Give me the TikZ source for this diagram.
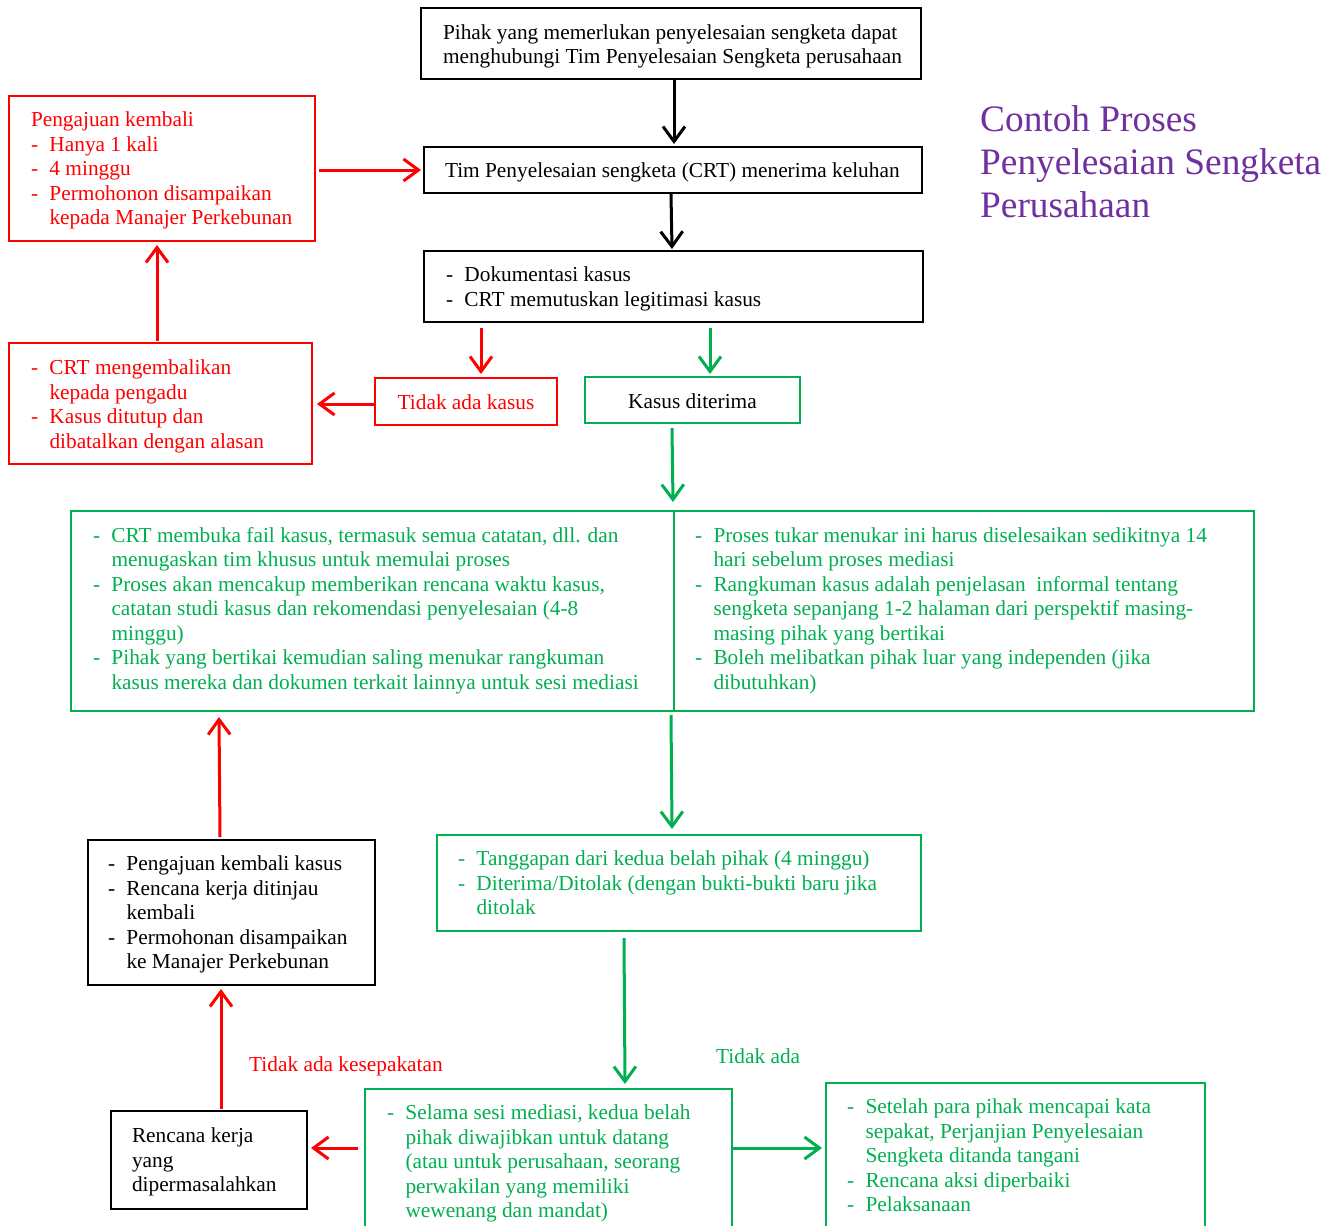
\documentclass[tikz,border=0pt]{standalone}
\usepackage{fontspec}
\setmainfont{Liberation Serif}
\usetikzlibrary{arrows.meta,calc}
\definecolor{grn}{HTML}{00B050}
\definecolor{purp}{HTML}{7030A0}
\newcommand{\fs}{\fontsize{21.33}{24.5}\selectfont}
\newcommand{\titlefs}{\fontsize{37.33}{43}\selectfont}
\newcommand{\bdash}{\makebox[18.5pt][l]{-}}
\newcommand{\bcont}{\hspace*{18.5pt}}
\newcommand{\boxlines}[3][2.5pt]{\raisebox{-#1}[\height][\depth]{\makebox[#2][l]{\begin{tabular}{@{}l@{}}#3\end{tabular}}}}
\newcommand{\lowtext}[1]{\raisebox{-1pt}[\height][\depth]{#1}}
\tikzset{
  bx/.style={draw, line width=2pt, inner ysep=1pt, font=\fs, anchor=center},
  blackbox/.style={bx, draw=black, text=black},
  redbox/.style={bx, draw=red, text=red},
  greenbox/.style={bx, draw=grn, text=grn},
  arr/.style={line width=3pt, -{Straight Barb[length=15pt,width=22pt]}},
  blackarr/.style={arr, draw=black},
  redarr/.style={arr, draw=red},
  greenarr/.style={arr, draw=grn},
}
\begin{document}
\begin{tikzpicture}[x=1pt,y=-1pt]
\clip (0,0) rectangle (1339,1226);
\fill[white] (0,0) rectangle (1339,1226);

% title
\node[anchor=west, inner sep=0pt, text=purp, font=\titlefs] (title) at (980,166)
  {\begin{tabular}{@{}l@{}}Contoh Proses\\Penyelesaian Sengketa\\Perusahaan\end{tabular}};

% top chain
\node[blackbox, minimum width=500pt, minimum height=71pt, inner xsep=22pt] (b1) at (671,43.5)
  {\boxlines[3pt]{456pt}{Pihak yang memerlukan penyelesaian sengketa dapat\\menghubungi Tim Penyelesaian Sengketa perusahaan}};
\node[blackbox, minimum width=498pt, minimum height=46pt, inner xsep=21pt] (b2) at (673,170)
  {\boxlines[3pt]{456pt}{Tim Penyelesaian sengketa (CRT) menerima keluhan}};
\node[blackbox, minimum width=499pt, minimum height=71pt, inner xsep=22pt] (b3) at (673.5,286.5)
  {\boxlines{455pt}{\bdash Dokumentasi kasus\\ \bdash CRT memutuskan legitimasi kasus}};
\node[redbox, minimum width=182pt, minimum height=47pt] (b4) at (466,401.5) {\lowtext{Tidak ada kasus}};
\node[bx, draw=grn, text=black, minimum width=215pt, minimum height=46pt] (b5) at (692.5,400) {\lowtext{Kasus diterima}};

% left red boxes
\node[redbox, minimum width=306pt, minimum height=145pt, inner xsep=22pt] (b6) at (162,168.5)
  {\boxlines{262pt}{Pengajuan kembali\\ \bdash Hanya 1 kali\\ \bdash 4 minggu\\ \bdash Permohonon disampaikan\\ \bcont kepada Manajer Perkebunan}};
\node[redbox, minimum width=303pt, minimum height=121pt, inner xsep=22pt] (b7) at (160.5,403.5)
  {\boxlines[3pt]{259pt}{\bdash CRT mengembalikan\\ \bcont kepada pengadu\\ \bdash Kasus ditutup dan\\ \bcont dibatalkan dengan alasan}};

% big green box
\node[greenbox, minimum width=603pt, minimum height=200pt, inner xsep=22pt] (b8L) at (372.5,611)
  {\boxlines[0pt]{559pt}{\bdash CRT membuka fail kasus, termasuk semua catatan, dll. dan\\ \bcont menugaskan tim khusus untuk memulai proses\\ \bdash Proses akan mencakup memberikan rencana waktu kasus,\\ \bcont catatan studi kasus dan rekomendasi penyelesaian (4-8\\ \bcont minggu)\\ \bdash Pihak yang bertikai kemudian saling menukar rangkuman\\ \bcont kasus mereka dan dokumen terkait lainnya untuk sesi mediasi}};
\node[greenbox, minimum width=580pt, minimum height=200pt, inner xsep=21pt] (b8R) at (964,611)
  {\boxlines[0pt]{538pt}{\bdash Proses tukar menukar ini harus diselesaikan sedikitnya 14\\ \bcont hari sebelum proses mediasi\\ \bdash Rangkuman kasus adalah penjelasan\ \ informal tentang\\ \bcont sengketa sepanjang 1-2 halaman dari perspektif masing-\\ \bcont masing pihak yang bertikai\\ \bdash Boleh melibatkan pihak luar yang independen (jika\\ \bcont dibutuhkan)}};

% middle / lower
\node[greenbox, minimum width=484pt, minimum height=96pt, inner xsep=21pt] (b9) at (679,883)
  {\boxlines{442pt}{\bdash Tanggapan dari kedua belah pihak (4 minggu)\\ \bdash Diterima/Ditolak (dengan bukti-bukti baru jika\\ \bcont ditolak}};
\node[blackbox, minimum width=287pt, minimum height=145pt, inner xsep=20pt] (b10) at (231.5,912.5)
  {\boxlines{247pt}{\bdash Pengajuan kembali kasus\\ \bdash Rencana kerja ditinjau\\ \bcont kembali\\ \bdash Permohonan disampaikan\\ \bcont ke Manajer Perkebunan}};
\node[blackbox, minimum width=196pt, minimum height=98pt, inner xsep=21pt] (b11) at (209,1160)
  {\boxlines{154pt}{Rencana kerja\\yang\\dipermasalahkan}};
\node[greenbox, anchor=north west, minimum width=367pt, inner xsep=22pt, inner ysep=11.75pt] (b12) at (364,1088)
  {\boxlines[2pt]{323pt}{\bdash Selama sesi mediasi, kedua belah\\ \bcont pihak diwajibkan untuk datang\\ \bcont (atau untuk perusahaan, seorang\\ \bcont perwakilan yang memiliki\\ \bcont wewenang dan mandat)\\ \mbox{}}};
\node[greenbox, anchor=north west, minimum width=379pt, inner xsep=21pt, inner ysep=11.75pt] (b13) at (825,1082)
  {\boxlines[2pt]{337pt}{\bdash Setelah para pihak mencapai kata\\ \bcont sepakat, Perjanjian Penyelesaian\\ \bcont Sengketa ditanda tangani\\ \bdash Rencana aksi diperbaiki\\ \bdash Pelaksanaan\\ \mbox{}}};

% labels
\node[anchor=west, inner sep=0pt, font=\fs, text=red] (lbl1) at (249,1066) {Tidak ada kesepakatan};
\node[anchor=west, inner sep=0pt, font=\fs, text=grn] (lbl2) at (716,1056) {Tidak ada};

% connectors
\draw[blackarr] ($(b1.south)+(3,0)$) -- ($(b2.north)+(1,-2)$);
\draw[blackarr] ($(b2.south)+(-2,0)$) -- ($(b3.north)+(-1.5,-1)$);
\draw[redarr] ($(b6.east)+(3,1.5)$) -- ($(b2.west)+(-2,0)$);
\draw[redarr] ($(b7.north)+(-3.5,-1)$) -- ($(b6.south)+(-5,3)$);
\draw[redarr] ($(b3.south)+(-192.5,5)$) -- ($(b4.north)+(15,-3)$);
\draw[greenarr] ($(b3.south)+(36.5,5)$) -- ($(b5.north)+(17.5,-2)$);
\draw[redarr] ($(b4.west)+(0,2.5)$) -- ($(b7.east)+(4,0.5)$);
\draw[greenarr] ($(b5.south)+(-20.5,4)$) -- ($(b8L.north east)+(-2,-8)$);
\draw[greenarr] ($(b8L.south east)+(-4,3)$) -- ($(b9.north)+(-7,-5)$);
\draw[greenarr] ($(b9.south)+(-55,6)$) -- ($(b12.north)+(76.5,-4)$);
\draw[redarr] ($(b10.north)+(-11.5,-2)$) -- ($(b8L.south west)+(149,5)$);
\draw[redarr] ($(b11.north)+(12,-1)$) -- ($(b10.south)+(-10.5,3)$);
\draw[redarr] ($(b12.north west)+(-6,60)$) -- ($(b11.east)+(3,-12)$);
\draw[greenarr] ($(b12.north east)+(0,60)$) -- ($(b13.north west)+(-3,66)$);
\end{tikzpicture}
\end{document}
